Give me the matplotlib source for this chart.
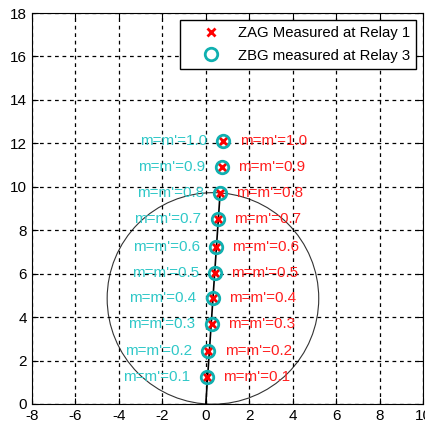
import numpy as np
import matplotlib
matplotlib.use("Agg")
import matplotlib.pyplot as plt
from matplotlib.patches import Circle

plt.rcParams['font.family'] = ['Liberation Sans', 'DejaVu Sans']
plt.rcParams['axes.unicode_minus'] = False

# fault location factor and measured apparent impedances
m_vals = [0.1, 0.2, 0.3, 0.4, 0.5, 0.6, 0.7, 0.8, 0.9, 1.0]
r_meas = [0.05, 0.12, 0.28, 0.32, 0.43, 0.47, 0.54, 0.66, 0.74, 0.81]
x_meas = [1.24, 2.45, 3.66, 4.86, 6.04, 7.24, 8.52, 9.72, 10.89, 12.09]

# line impedance (reach) and mho circle
line_r = [0.0, 0.66]
line_x = [0.0, 9.72]
mho_center = (0.33, 4.86)
mho_radius = 4.87

fig = plt.figure(figsize=(4.25, 4.24), dpi=100)
ax = fig.add_axes([0.0753, 0.0472, 0.92, 0.922])

ax.add_patch(Circle(mho_center, mho_radius, fill=False, color='#333333', lw=0.8))
ax.plot(line_r, line_x, color='black', lw=1.2)

ax.plot(r_meas, x_meas, 'x', color='red', ms=6, mew=2, label='ZAG Measured at Relay 1')
ax.plot(r_meas, x_meas, 'o', mfc='none', mec='#10B0B0', ms=9, mew=2,
        label='ZBG measured at Relay 3')

for m, r, x in zip(m_vals, r_meas, x_meas):
    lab = "m=m'=%.1f" % m
    ax.text(r + 0.75, x, lab, color='#FF2020', fontsize=11, ha='left', va='center')
    ax.text(r - 0.75, x, lab, color='#30C8C8', fontsize=11, ha='right', va='center')

ax.set_xlim(-8, 10)
ax.set_ylim(0, 18)
ax.set_xticks(np.arange(-8, 11, 2))
ax.set_yticks(np.arange(0, 19, 2))
ax.grid(True, linestyle=(0, (3, 3)), color='black', lw=0.9)
ax.tick_params(direction='in', top=True, right=True, labelsize=11, length=4)
ax.legend(loc='upper right', fontsize=10.7, fancybox=False, edgecolor='black',
          framealpha=1, borderaxespad=0.5, borderpad=0.4, handlelength=3.3,
          handletextpad=0.15, labelspacing=0.55)

fig.savefig("out.png", dpi=100)
